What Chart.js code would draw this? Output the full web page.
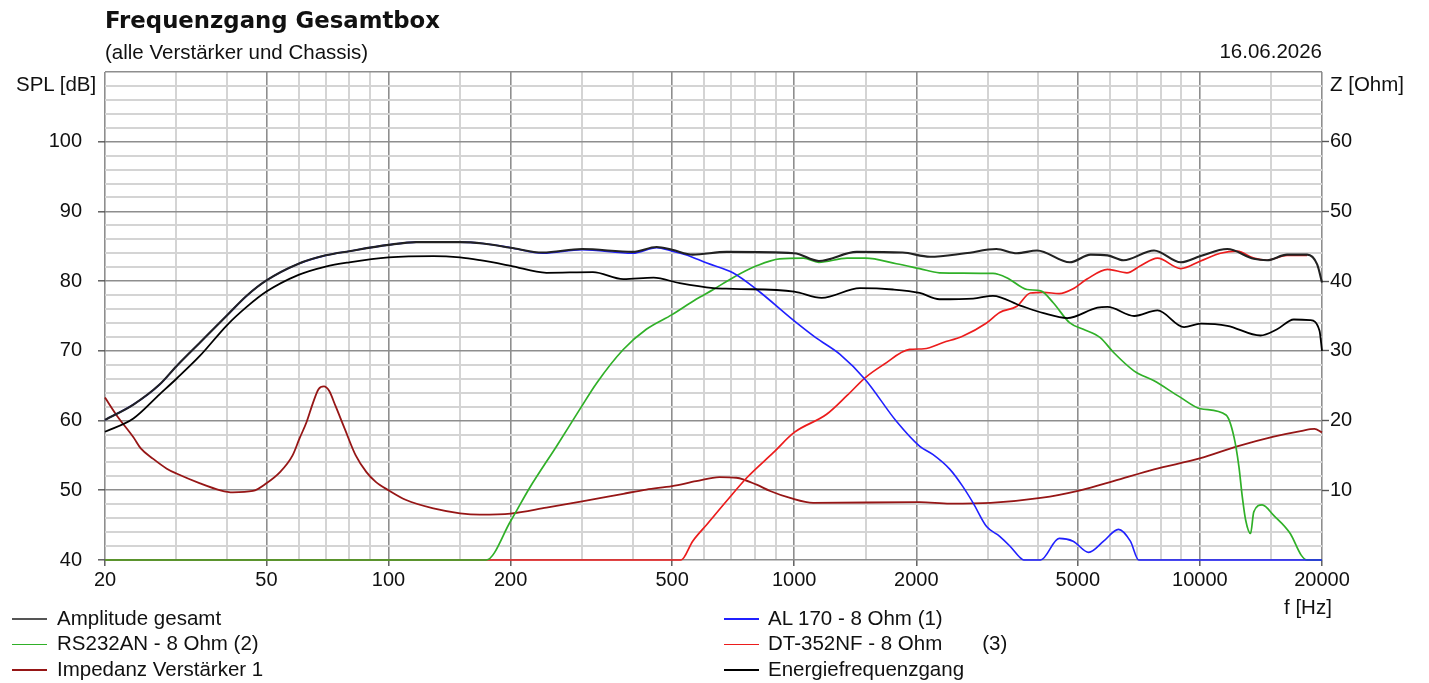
<!DOCTYPE html>
<html>
<head>
<meta charset="utf-8">
<title>Frequenzgang Gesamtbox</title>
<script src="https://cdn.jsdelivr.net/npm/chart.js@4.4.1/dist/chart.umd.min.js"></script>
<style>
  html, body { margin: 0; padding: 0; background: #fff; }
  #wrap { position: relative; width: 1429px; height: 683px; overflow: hidden; }
  #c { position: absolute; left: 0; top: 0; }
  .txt { position: absolute; font-family: "Liberation Sans", Arial, sans-serif; font-size: 20.5px;
         line-height: 20.5px; color: #111; white-space: pre; }
  .title { font-family: "DejaVu Sans", Verdana, sans-serif; font-weight: bold; font-size: 22.8px; line-height: 22.8px; }
  .legline { position: absolute; height: 1.6px; width: 35px; }
</style>
</head>
<body>
<div id="wrap">
  <canvas id="c" width="1429" height="683"></canvas>
  <div class="txt title" style="left:105px; top:8.8px;">Frequenzgang Gesamtbox</div>
  <div class="txt" style="left:105px; top:41.6px;">(alle Verstärker und Chassis)</div>
  <div class="txt" style="right:107px; top:41px;">16.06.2026</div>
  <div class="txt" style="left:16px; top:73.6px;">SPL [dB]</div>
  <div class="txt" style="left:1330px; top:73.6px;">Z [Ohm]</div>
  <div class="txt" style="left:1284px; top:596.6px;">f [Hz]</div>
  <div id="legend"></div>
</div>
<script>
// Frequency grid of the log axis and the labelled decades
const FREQ_GRID = [20, 30, 40, 50, 60, 70, 80, 90, 100, 150, 200, 300, 400, 500, 600, 700, 800, 900,
  1000, 1500, 2000, 3000, 4000, 5000, 6000, 7000, 8000, 9000, 10000, 15000, 20000];
const FREQ_LABELS = [20, 50, 100, 200, 500, 1000, 2000, 5000, 10000, 20000];
const SPL_LABELS = [40, 50, 60, 70, 80, 90, 100];
const Z_LABELS = [10, 20, 30, 40, 50, 60];

// Amplitude gesamt (sum response), dB
const gesamtFreq = [20, 23.5, 27.3, 30, 34.3, 40, 44.7, 50, 60, 70, 80, 100, 117, 150, 171, 200, 240, 300, 400,
  458, 500, 562, 682, 1000, 1150, 1426, 1850, 2160, 2640, 3150, 3540, 3970, 4780, 5380, 5920, 6480, 7710,
  8970, 10040, 11680, 13580, 14640, 16400, 18380, 19460, 20000];
const gesamtDb = [60.1, 62.3, 65.2, 67.8, 71.2, 75.1, 77.9, 80.1, 82.5, 83.7, 84.3, 85.2, 85.6, 85.6, 85.4, 84.8, 84.1, 84.6, 84.2,
  84.9, 84.5, 83.8, 84.2, 84.0, 82.9, 84.2, 84.1, 83.5, 84.0, 84.6, 84.0, 84.4, 82.7, 83.8, 83.7, 83.0, 84.4,
  82.7, 83.6, 84.6, 83.2, 83.0, 83.8, 83.8, 82.4, 79.8];

// Energiefrequenzgang (power response), dB
const energieFreq = [20, 23.5, 27.3, 30, 34.3, 40, 44.7, 50, 60, 70, 80, 100, 129, 150, 168, 200, 245, 319, 379,
  450, 522, 632, 706, 1000, 1168, 1452, 1752, 2038, 2280, 2760, 3090, 3610, 4120, 4710, 5590, 5920, 6890,
  7860, 9140, 10040, 11680, 14100, 15500, 17040, 18700, 19720, 20000];
const energieDb = [58.4, 60.3, 63.8, 66.0, 69.3, 73.7, 76.3, 78.5, 80.9, 82.1, 82.7, 83.4, 83.6, 83.4, 83.0, 82.2, 81.2, 81.3, 80.3,
  80.5, 79.7, 79.0, 78.9, 78.5, 77.6, 79.0, 78.8, 78.3, 77.4, 77.5, 77.9, 76.5, 75.4, 74.7, 76.2, 76.3, 75.0,
  75.8, 73.4, 73.9, 73.6, 72.2, 73.1, 74.5, 74.4, 72.9, 70.0];

// AL 170 woofer, dB
const al170Freq = [20, 23.5, 27.3, 30, 34.3, 40, 44.7, 50, 60, 70, 80, 100, 117, 150, 171, 200, 240, 300, 400,
  458, 500, 540, 609, 706, 808, 1000, 1130, 1297, 1496, 1786, 2040, 2200, 2420, 2600, 2760, 2980, 3210,
  3400, 3610, 3680, 4050, 4500, 4870, 5320, 5790, 6300, 6740, 7070, 20000];
const al170Db = [60.1, 62.3, 65.2, 67.8, 71.2, 75.1, 77.9, 80.1, 82.5, 83.7, 84.3, 85.2, 85.6, 85.6, 85.4, 84.8, 84.0, 84.5, 84.0,
  84.8, 84.3, 83.8, 82.6, 81.2, 78.8, 74.3, 71.9, 69.5, 65.9, 59.9, 56.3, 55.1, 53.0, 50.6, 48.2, 44.8, 43.4,
  42.0, 40.3, 40.0, 40.0, 43.1, 42.7, 41.1, 42.7, 44.4, 42.7, 40.0, 40.0];

// RS232AN midrange, dB
const rs232Freq = [20, 174, 200, 223, 260, 296, 326, 379, 432, 500, 573, 632, 706, 808, 920, 1054, 1150, 1350,
  1500, 1786, 2038, 2280, 3090, 3340, 3750, 4050, 4350, 4780, 5160, 5680, 6120, 6890, 7710, 8920, 10040,
  11600, 12130, 12480, 12720, 12970, 13330, 13580, 14240, 15200, 16700, 17770, 18380, 20000];
const rs232Db = [40.0, 40.0, 45.6, 50.4, 56.4, 61.6, 65.4, 70.2, 73.1, 75.2, 77.4, 78.8, 80.5, 82.2, 83.2, 83.3, 82.7, 83.3,
  83.3, 82.5, 81.8, 81.2, 81.1, 80.5, 78.8, 78.6, 76.9, 74.0, 73.1, 71.9, 69.8, 67.1, 65.7, 63.4, 61.7,
  60.8, 57.7, 53.4, 49.1, 45.7, 43.8, 46.9, 47.9, 46.4, 43.8, 40.7, 40.0, 40.0];

// DT-352NF tweeter, dB
const dt352Freq = [20, 526, 562, 609, 682, 764, 888, 1000, 1202, 1350, 1500, 1658, 1924, 2090, 2330, 2600,
  2980, 3210, 3540, 3820, 4120, 4500, 4870, 5270, 5920, 6610, 7140, 7860, 8970, 10040, 11240, 12360,
  13580, 14640, 16400, 17720, 18380];
const dt352Db = [40.0, 40.0, 42.7, 45.1, 48.5, 51.8, 55.4, 58.3, 60.9, 63.6, 66.2, 68.0, 70.2, 70.3, 71.2, 72.1,
  74.0, 75.5, 76.4, 78.3, 78.4, 78.2, 78.9, 80.3, 81.7, 81.2, 82.2, 83.3, 81.8, 82.9, 84.0, 84.3,
  83.3, 83.0, 83.7, 83.7, 83.7];

// Impedanz Verstärker 1, Ohm (right axis)
const impFreq = [20, 21.4, 23.5, 24.5, 26.3, 28.4, 30, 34.3, 38.5, 41.3, 46.3, 50, 54, 58, 60.3, 62.8, 65, 67.2,
  69.3, 71.3, 74, 78, 83, 88.2, 93, 100, 110.5, 129, 150, 168, 200, 245, 300, 379, 432, 500, 573, 654,
  720, 808, 872, 977, 1114, 2038, 2420, 3050, 4050, 5070, 6120, 7710, 10040, 12360, 15200, 17720, 19160, 20000];
const impOhm = [23.3, 20.7, 17.6, 16.0, 14.5, 13.1, 12.4, 11.0, 10.0, 9.7, 9.9, 11.0, 12.6, 15.0, 17.4, 19.8, 22.4, 24.5,
  24.9, 24.3, 22.1, 18.8, 15.0, 12.6, 11.2, 10.0, 8.6, 7.4, 6.7, 6.5, 6.65, 7.5, 8.4, 9.5, 10.1, 10.6, 11.3, 11.9,
  11.8, 10.8, 9.9, 8.9, 8.2, 8.3, 8.1, 8.2, 8.9, 10.0, 11.3, 13.0, 14.6, 16.3, 17.7, 18.5, 18.8, 18.3];

const pts = (fs, vs) => fs.map((f, i) => ({ x: f, y: vs[i] }));

const GRID_MAJOR = '#8e8e8e';
const GRID_MINOR = '#d4d4d4';
const TEXT = '#111111';
const FONT = { family: "'Liberation Sans', Arial, sans-serif", size: 20 };

// legend column/row for each curve, drawing order via "order" (lower = on top)
const series = [
  { label: 'Amplitude gesamt', data: pts(gesamtFreq, gesamtDb), color: '#222222', legendColor: '#555555', width: 2.1, axis: 'y', order: 0, col: 0, row: 0 },
  { label: 'AL 170 - 8 Ohm (1)', data: pts(al170Freq, al170Db), color: 'rgb(32,32,255)', width: 1.6, axis: 'y', order: 2, col: 1, row: 0 },
  { label: 'RS232AN - 8 Ohm (2)', data: pts(rs232Freq, rs232Db), color: 'rgb(48,176,40)', width: 1.7, axis: 'y', order: 3, col: 0, row: 1 },
  { label: 'DT-352NF - 8 Ohm       (3)', data: pts(dt352Freq, dt352Db), color: 'rgb(236,28,28)', width: 1.7, axis: 'y', order: 4, col: 1, row: 1 },
  { label: 'Impedanz Verstärker 1', data: pts(impFreq, impOhm), color: 'rgb(150,22,22)', width: 1.8, axis: 'z', order: 5, col: 0, row: 2 },
  { label: 'Energiefrequenzgang', data: pts(energieFreq, energieDb), color: '#000000', width: 1.8, axis: 'y', order: 1, col: 1, row: 2 }
];

new Chart(document.getElementById('c'), {
  type: 'line',
  data: {
    datasets: series.map(s => ({
      label: s.label,
      data: s.data,
      yAxisID: s.axis,
      order: s.order,
      borderColor: s.color,
      backgroundColor: s.color,
      borderWidth: s.width,
      pointRadius: 0,
      fill: false,
      clip: 3,
      cubicInterpolationMode: 'monotone'
    }))
  },
  options: {
    responsive: false,
    animation: false,
    devicePixelRatio: 1,
    layout: { padding: { top: 72, left: 0, right: 0, bottom: 0 } },
    plugins: { legend: { display: false }, tooltip: { enabled: false }, title: { display: false } },
    scales: {
      x: {
        type: 'logarithmic',
        min: 20,
        max: 20000,
        afterBuildTicks: (scale) => { scale.ticks = FREQ_GRID.map(v => ({ value: v })); },
        afterFit: (scale) => { scale.height = 123; },
        ticks: {
          autoSkip: false,
          maxRotation: 0,
          minRotation: 0,
          padding: 2,
          color: TEXT,
          font: FONT,
          callback: (v) => FREQ_LABELS.includes(v) ? String(v) : ''
        },
        grid: {
          color: (c) => FREQ_LABELS.includes(c.tick.value) ? GRID_MAJOR : GRID_MINOR,
          lineWidth: (c) => FREQ_LABELS.includes(c.tick.value) ? 1.6 : 2,
          tickLength: 6,
          tickColor: (c) => FREQ_LABELS.includes(c.tick.value) ? '#555555' : 'rgba(0,0,0,0)',
          tickWidth: 1.4
        },
        border: { display: false }
      },
      y: {
        type: 'linear',
        position: 'left',
        min: 40,
        max: 110,
        afterFit: (scale) => { scale.width = 105; },
        ticks: {
          stepSize: 2,
          autoSkip: false,
          padding: 16,
          color: TEXT,
          font: FONT,
          callback: (v) => SPL_LABELS.includes(v) ? String(v) : ''
        },
        grid: {
          color: (c) => (c.tick.value % 10 === 0) ? GRID_MAJOR : GRID_MINOR,
          lineWidth: (c) => (c.tick.value % 10 === 0) ? 1.6 : 2,
          tickLength: 7,
          tickColor: (c) => SPL_LABELS.includes(c.tick.value) ? '#555555' : 'rgba(0,0,0,0)',
          tickWidth: 1.4
        },
        border: { display: false }
      },
      z: {
        type: 'linear',
        position: 'right',
        min: 0,
        max: 70,
        afterFit: (scale) => { scale.width = 107; },
        ticks: {
          stepSize: 10,
          autoSkip: false,
          padding: 1,
          color: TEXT,
          font: FONT,
          callback: (v) => Z_LABELS.includes(v) ? String(v) : ''
        },
        grid: {
          drawOnChartArea: false,
          tickLength: 7,
          tickColor: (c) => Z_LABELS.includes(c.tick.value) ? '#555555' : 'rgba(0,0,0,0)',
          tickWidth: 1.4
        },
        border: { display: false }
      }
    }
  }
});

// Legend below the plot: two columns, three rows
const legend = document.getElementById('legend');
const COL_LINE_X = [12, 724];
const COL_TEXT_X = [57, 768];
const ROW_BASE = [625, 650.5, 676];
series.forEach(s => {
  const line = document.createElement('div');
  line.className = 'legline';
  line.style.left = COL_LINE_X[s.col] + 'px';
  line.style.top = (ROW_BASE[s.row] - 7) + 'px';
  line.style.background = s.legendColor || s.color;
  legend.appendChild(line);
  const t = document.createElement('div');
  t.className = 'txt';
  t.style.left = COL_TEXT_X[s.col] + 'px';
  t.style.top = (ROW_BASE[s.row] - 17.35) + 'px';
  t.textContent = s.label;
  legend.appendChild(t);
});
</script>
</body>
</html>
